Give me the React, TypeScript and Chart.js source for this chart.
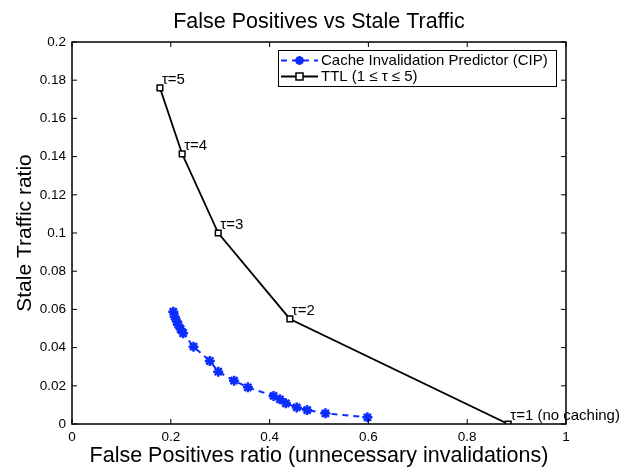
import { useEffect, useRef } from "react";
import { Chart, registerables } from "chart.js";

Chart.register(...registerables);

const chartTitle = "False Positives vs Stale Traffic";
const xAxisTitle = "False Positives ratio (unnecessary invalidations)";
const yAxisTitle = "Stale Traffic ratio";

const cipLabel = "Cache Invalidation Predictor (CIP)";
const cipX = [0.205, 0.208, 0.212, 0.215, 0.22, 0.225, 0.246, 0.279, 0.296, 0.328, 0.356, 0.408, 0.421, 0.433, 0.455, 0.476, 0.513, 0.598];
const cipY = [0.0588, 0.0562, 0.0536, 0.052, 0.0496, 0.0475, 0.0405, 0.033, 0.0274, 0.0227, 0.0192, 0.0147, 0.0129, 0.0108, 0.0087, 0.0073, 0.0056, 0.0035];

const ttlLabel = "TTL (1 ≤ τ ≤ 5)";
const ttlX = [0.883, 0.441, 0.296, 0.223, 0.178];
const ttlY = [0, 0.055, 0.1, 0.1414, 0.176];
const ttlPointLabels = ["τ=1 (no caching)", "τ=2", "τ=3", "τ=4", "τ=5"];

const xTicks = [0, 0.2, 0.4, 0.6, 0.8, 1];
const xTickLabels = ["0", "0.2", "0.4", "0.6", "0.8", "1"];
const yTicks = [0, 0.02, 0.04, 0.06, 0.08, 0.1, 0.12, 0.14, 0.16, 0.18, 0.2];
const yTickLabels = ["0", "0.02", "0.04", "0.06", "0.08", "0.1", "0.12", "0.14", "0.16", "0.18", "0.2"];

const FONT = "'Liberation Sans', Arial, Helvetica, sans-serif";
const BLUE = "#0a2cff";

export default function App() {
  const ref = useRef<HTMLCanvasElement | null>(null);

  useEffect(() => {
    document.body.style.margin = "0";
    const canvas = ref.current;
    if (!canvas) return;

    const decor = {
      id: "decor",
      afterDraw(chart: any) {
        const ctx = chart.ctx as CanvasRenderingContext2D;
        const { left, right, top, bottom } = chart.chartArea;
        const xs = chart.scales.x;
        const ys = chart.scales.y;
        ctx.save();
        // frame
        ctx.strokeStyle = "#000";
        ctx.lineWidth = 1.5;
        ctx.strokeRect(left, top, right - left, bottom - top);
        // inward ticks
        ctx.lineWidth = 1;
        ctx.beginPath();
        const tl = 5;
        xTicks.forEach((v) => {
          const px = xs.getPixelForValue(v);
          ctx.moveTo(px, bottom);
          ctx.lineTo(px, bottom - tl);
          ctx.moveTo(px, top);
          ctx.lineTo(px, top + tl);
        });
        yTicks.forEach((v) => {
          const py = ys.getPixelForValue(v);
          ctx.moveTo(left, py);
          ctx.lineTo(left + tl, py);
          ctx.moveTo(right, py);
          ctx.lineTo(right - tl, py);
        });
        ctx.stroke();

        // point annotations
        ctx.fillStyle = "#000";
        ctx.font = `15px ${FONT}`;
        ctx.textBaseline = "middle";
        ctx.textAlign = "left";
        ttlPointLabels.forEach((t, i) => {
          const px = xs.getPixelForValue(ttlX[i]);
          const py = ys.getPixelForValue(ttlY[i]);
          ctx.fillText(t, px + 2, py - 8);
        });

        // title
        ctx.font = `21.5px ${FONT}`;
        ctx.textAlign = "center";
        ctx.textBaseline = "alphabetic";
        ctx.fillText(chartTitle, (left + right) / 2, 27.5);

        // legend
        const lx = 278, ly = 50, lw = 278, lh = 36;
        ctx.fillStyle = "#fff";
        ctx.fillRect(lx, ly, lw, lh);
        ctx.strokeStyle = "#000";
        ctx.lineWidth = 1;
        ctx.strokeRect(lx + 0.5, ly + 0.5, lw, lh);
        const r1 = 60.5, r2 = 76.5;
        const s0 = 281, s1 = 318, sm = (s0 + s1) / 2;
        // CIP sample
        ctx.strokeStyle = BLUE;
        ctx.lineWidth = 2;
        ctx.setLineDash([6, 5]);
        ctx.beginPath();
        ctx.moveTo(s0, r1);
        ctx.lineTo(s1, r1);
        ctx.stroke();
        ctx.setLineDash([]);
        ctx.lineWidth = 2.5;
        ctx.beginPath();
        const rr = 4.5;
        for (let k = 0; k < 4; k++) {
          const a = (k * Math.PI) / 4;
          ctx.moveTo(sm - rr * Math.cos(a), r1 - rr * Math.sin(a));
          ctx.lineTo(sm + rr * Math.cos(a), r1 + rr * Math.sin(a));
        }
        ctx.stroke();
        // TTL sample
        ctx.strokeStyle = "#000";
        ctx.lineWidth = 1.8;
        ctx.beginPath();
        ctx.moveTo(s0, r2);
        ctx.lineTo(s1, r2);
        ctx.stroke();
        ctx.fillStyle = "#fff";
        ctx.fillRect(sm - 3.5, r2 - 3.5, 7, 7);
        ctx.lineWidth = 1.5;
        ctx.strokeRect(sm - 3.5, r2 - 3.5, 7, 7);
        ctx.fillStyle = "#000";
        ctx.font = `15px ${FONT}`;
        ctx.textAlign = "left";
        ctx.textBaseline = "middle";
        ctx.fillText(cipLabel, 321, r1);
        ctx.fillText(ttlLabel, 321, r2);
        ctx.restore();
      },
    };

    const chart = new Chart(canvas, {
      type: "scatter",
      data: {
        datasets: [
          {
            label: cipLabel,
            data: cipX.map((x, i) => ({ x, y: cipY[i] })),
            showLine: true,
            borderColor: BLUE,
            backgroundColor: BLUE,
            borderWidth: 2,
            borderDash: [6, 5],
            pointStyle: "star",
            pointRadius: 5,
            pointBorderWidth: 2.5,
            pointBorderColor: BLUE,
            pointBackgroundColor: BLUE,
          },
          {
            label: ttlLabel,
            data: ttlX.map((x, i) => ({ x, y: ttlY[i] })),
            showLine: true,
            borderColor: "#000",
            backgroundColor: "#fff",
            borderWidth: 1.8,
            pointStyle: "rect",
            pointRadius: 4,
            pointBorderWidth: 1.5,
            pointBorderColor: "#000",
            pointBackgroundColor: "#fff",
          },
        ],
      },
      options: {
        responsive: false,
        animation: false,
        layout: { padding: { top: 42, right: 63, left: 0, bottom: 0 } },
        plugins: {
          legend: { display: false },
          title: { display: false },
          tooltip: { enabled: false },
        },
        scales: {
          x: {
            type: "linear",
            min: 0,
            max: 1,
            afterFit: (s: any) => {
              s.height = 45;
            },
            afterBuildTicks: (s: any) => {
              s.ticks = xTicks.map((v) => ({ value: v }));
            },
            grid: { display: false, drawTicks: false },
            border: { display: false },
            ticks: {
              color: "#000",
              font: { family: FONT, size: 13.5 },
              padding: 5,
              maxRotation: 0,
              autoSkip: false,
              callback: (_v: any, i: number) => xTickLabels[i],
            },
            title: {
              display: true,
              text: xAxisTitle,
              color: "#000",
              font: { family: FONT, size: 21.5 },
              padding: { top: 0, bottom: 0 },
            },
          },
          y: {
            type: "linear",
            min: 0,
            max: 0.2,
            afterFit: (s: any) => {
              s.width = 72;
            },
            afterBuildTicks: (s: any) => {
              s.ticks = yTicks.map((v) => ({ value: v }));
            },
            grid: { display: false, drawTicks: false },
            border: { display: false },
            ticks: {
              color: "#000",
              font: { family: FONT, size: 13.5 },
              padding: 6,
              autoSkip: false,
              callback: (_v: any, i: number) => yTickLabels[i],
            },
            title: {
              display: true,
              text: yAxisTitle,
              color: "#000",
              font: { family: FONT, size: 21 },
              padding: { top: 13, bottom: 0 },
            },
          },
        },
      },
      plugins: [decor],
    });

    return () => chart.destroy();
  }, []);

  return (
    <div style={{ width: 629, height: 469 }}>
      <canvas ref={ref} width={629} height={469} />
    </div>
  );
}
